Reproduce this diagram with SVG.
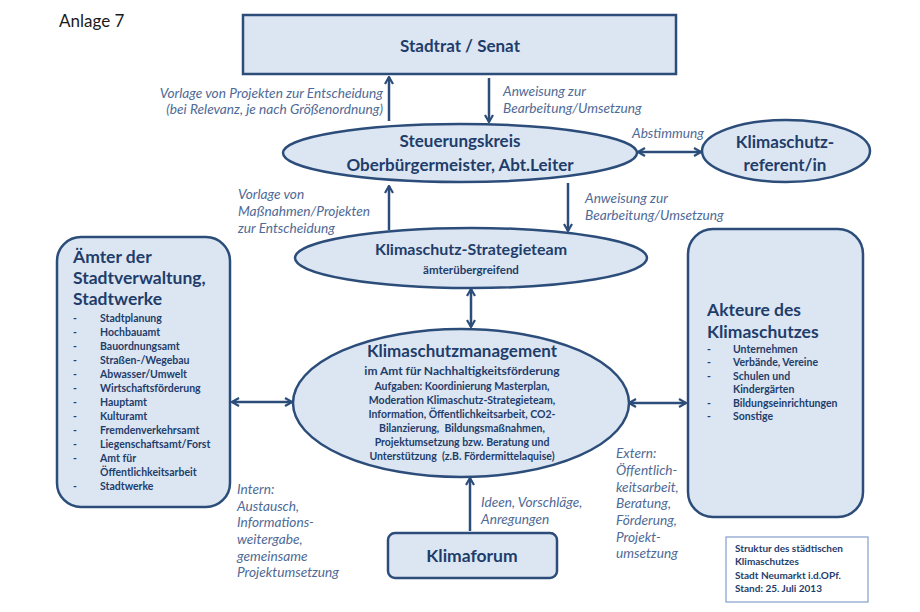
<svg xmlns="http://www.w3.org/2000/svg" width="920" height="612" viewBox="0 0 920 612">
<style>
text{font-family:Lato,"Open Sans","Liberation Sans",sans-serif;}
.shape{fill:#dce6f2;stroke:#2c4d7a;stroke-width:2.5;}
.t{fill:#1f3d6b;font-weight:bold;}
.c{text-anchor:middle;}
.lab{fill:#4f6a96;font-style:italic;font-size:13.7px;}
.item{fill:#1f3d6b;font-weight:bold;font-size:10.5px;}
.con{stroke:#2c4d7a;stroke-width:2.5;fill:none;}
</style>
<defs>
<marker id="ah" viewBox="0 0 10 10" refX="9" refY="5" markerWidth="10" markerHeight="10" markerUnits="userSpaceOnUse" orient="auto-start-reverse">
<path d="M2,1 L9,5 L2,9" fill="none" stroke="#2c4d7a" stroke-width="2.2" stroke-linejoin="miter"/>
</marker>
</defs>
<rect width="920" height="612" fill="#ffffff"/>
<text x="59" y="27" font-size="17" fill="#1a1a1a">Anlage 7</text>

<g id="connectors">
<line class="con" x1="389" y1="121" x2="389" y2="77" marker-end="url(#ah)"/>
<line class="con" x1="489" y1="78" x2="489" y2="122" marker-end="url(#ah)"/>
<line class="con" x1="638" y1="152" x2="701" y2="152" marker-start="url(#ah)" marker-end="url(#ah)"/>
<line class="con" x1="389" y1="230" x2="389" y2="186" marker-end="url(#ah)"/>
<line class="con" x1="568" y1="183" x2="568" y2="231" marker-end="url(#ah)"/>
<line class="con" x1="471" y1="289" x2="471" y2="327" marker-start="url(#ah)" marker-end="url(#ah)"/>
<line class="con" x1="232" y1="402" x2="292" y2="402" marker-start="url(#ah)" marker-end="url(#ah)"/>
<line class="con" x1="629" y1="403" x2="686" y2="403" marker-start="url(#ah)" marker-end="url(#ah)"/>
<line class="con" x1="470" y1="531" x2="470" y2="478" marker-end="url(#ah)"/>
<text class="lab" x="383" y="98" text-anchor="end">Vorlage von Projekten zur Entscheidung</text>
<text class="lab" x="383" y="114" text-anchor="end">(bei Relevanz, je nach Größenordnung)</text>
<text class="lab" x="503" y="96">Anweisung zur</text>
<text class="lab" x="503" y="113">Bearbeitung/Umsetzung</text>
<text class="lab" x="632" y="138">Abstimmung</text>
<text class="lab" x="238" y="199">Vorlage von</text>
<text class="lab" x="238" y="216">Maßnahmen/Projekten</text>
<text class="lab" x="238" y="233">zur Entscheidung</text>
<text class="lab" x="585" y="203">Anweisung zur</text>
<text class="lab" x="585" y="220">Bearbeitung/Umsetzung</text>
<text class="lab" x="481" y="507">Ideen, Vorschläge,</text>
<text class="lab" x="481" y="524">Anregungen</text>
<text class="lab" x="237" y="494">Intern:</text>
<text class="lab" x="237" y="511">Austausch,</text>
<text class="lab" x="237" y="527">Informations-</text>
<text class="lab" x="237" y="544">weitergabe,</text>
<text class="lab" x="237" y="561">gemeinsame</text>
<text class="lab" x="237" y="577">Projektumsetzung</text>
<text class="lab" x="616" y="458">Extern:</text>
<text class="lab" x="616" y="475">Öffentlich-</text>
<text class="lab" x="616" y="492">keitsarbeit,</text>
<text class="lab" x="616" y="508">Beratung,</text>
<text class="lab" x="616" y="525">Förderung,</text>
<text class="lab" x="616" y="542">Projekt-</text>
<text class="lab" x="616" y="558">umsetzung</text>
</g>

<g id="stadtrat">
<rect class="shape" x="243" y="15" width="433" height="59"/>
<text class="t c" x="460" y="52" font-size="17">Stadtrat / Senat</text>
</g>

<g id="steuerungskreis">
<ellipse class="shape" cx="460" cy="153" rx="177" ry="29"/>
<text class="t c" x="460" y="147" font-size="17">Steuerungskreis</text>
<text class="t c" x="460" y="171" font-size="17">Oberbürgermeister, Abt.Leiter</text>
</g>

<g id="referent">
<ellipse class="shape" cx="786" cy="151" rx="84" ry="31"/>
<text class="t c" x="785" y="148" font-size="17">Klimaschutz-</text>
<text class="t c" x="785" y="171" font-size="17">referent/in</text>
</g>

<g id="strategieteam">
<ellipse class="shape" cx="471" cy="258" rx="176" ry="30"/>
<text class="t c" x="471" y="255" font-size="16">Klimaschutz-Strategieteam</text>
<text class="t c" x="471" y="274" font-size="11.5">ämterübergreifend</text>
</g>

<g id="management">
<ellipse class="shape" cx="461" cy="403" rx="168" ry="74"/>
<text class="t c" x="462" y="357" font-size="17">Klimaschutzmanagement</text>
<text class="t c" x="462" y="375" font-size="12">im Amt für Nachhaltigkeitsförderung</text>
<text class="item c" x="462" y="390">Aufgaben: Koordinierung Masterplan,</text>
<text class="item c" x="462" y="404">Moderation Klimaschutz-Strategieteam,</text>
<text class="item c" x="462" y="418">Information, Öffentlichkeitsarbeit, CO2-</text>
<text class="item c" x="462" y="432" xml:space="preserve">Bilanzierung,  Bildungsmaßnahmen,</text>
<text class="item c" x="462" y="446">Projektumsetzung bzw. Beratung und</text>
<text class="item c" x="462" y="460" xml:space="preserve">Unterstützung  (z.B. Fördermittelaquise)</text>
</g>

<g id="aemter">
<rect class="shape" x="57" y="237" width="173" height="270" rx="24"/>
<text class="t" x="73" y="263" font-size="17.5">Ämter der</text>
<text class="t" x="73" y="284" font-size="17.5">Stadtverwaltung,</text>
<text class="t" x="73" y="305" font-size="17.5">Stadtwerke</text>
<g class="item">
<text x="73" y="322">-</text><text x="100" y="322">Stadtplanung</text>
<text x="73" y="336">-</text><text x="100" y="336">Hochbauamt</text>
<text x="73" y="350">-</text><text x="100" y="350">Bauordnungsamt</text>
<text x="73" y="364">-</text><text x="100" y="364">Straßen-/Wegebau</text>
<text x="73" y="378">-</text><text x="100" y="378">Abwasser/Umwelt</text>
<text x="73" y="392">-</text><text x="100" y="392">Wirtschaftsförderung</text>
<text x="73" y="406">-</text><text x="100" y="406">Hauptamt</text>
<text x="73" y="420">-</text><text x="100" y="420">Kulturamt</text>
<text x="73" y="434">-</text><text x="100" y="434">Fremdenverkehrsamt</text>
<text x="73" y="448">-</text><text x="100" y="448">Liegenschaftsamt/Forst</text>
<text x="73" y="462">-</text><text x="100" y="462">Amt für</text>
<text x="100" y="476">Öffentlichkeitsarbeit</text>
<text x="73" y="490">-</text><text x="100" y="490">Stadtwerke</text>
</g>
</g>

<g id="akteure">
<rect class="shape" x="688" y="229" width="175" height="288" rx="25"/>
<text class="t" x="707" y="316" font-size="17.5">Akteure des</text>
<text class="t" x="707" y="338" font-size="17.5">Klimaschutzes</text>
<g class="item">
<text x="707" y="353">-</text><text x="733" y="353">Unternehmen</text>
<text x="707" y="366">-</text><text x="733" y="366">Verbände, Vereine</text>
<text x="707" y="380">-</text><text x="733" y="380">Schulen und</text>
<text x="733" y="393">Kindergärten</text>
<text x="707" y="407">-</text><text x="733" y="407">Bildungseinrichtungen</text>
<text x="707" y="420">-</text><text x="733" y="420">Sonstige</text>
</g>
</g>

<g id="klimaforum">
<rect class="shape" x="388" y="533" width="169" height="45" rx="7"/>
<text class="t c" x="472" y="562" font-size="17.5">Klimaforum</text>
</g>

<g id="info">
<rect x="726" y="537" width="142" height="65" fill="#ffffff" stroke="#8da6cf" stroke-width="1.3"/>
<g class="item">
<text x="735" y="552" font-size="10">Struktur des städtischen</text>
<text x="735" y="565" font-size="10">Klimaschutzes</text>
<text x="735" y="579" font-size="10">Stadt Neumarkt i.d.OPf.</text>
<text x="735" y="592" font-size="10">Stand: 25. Juli 2013</text>
</g>
</g>
</svg>
